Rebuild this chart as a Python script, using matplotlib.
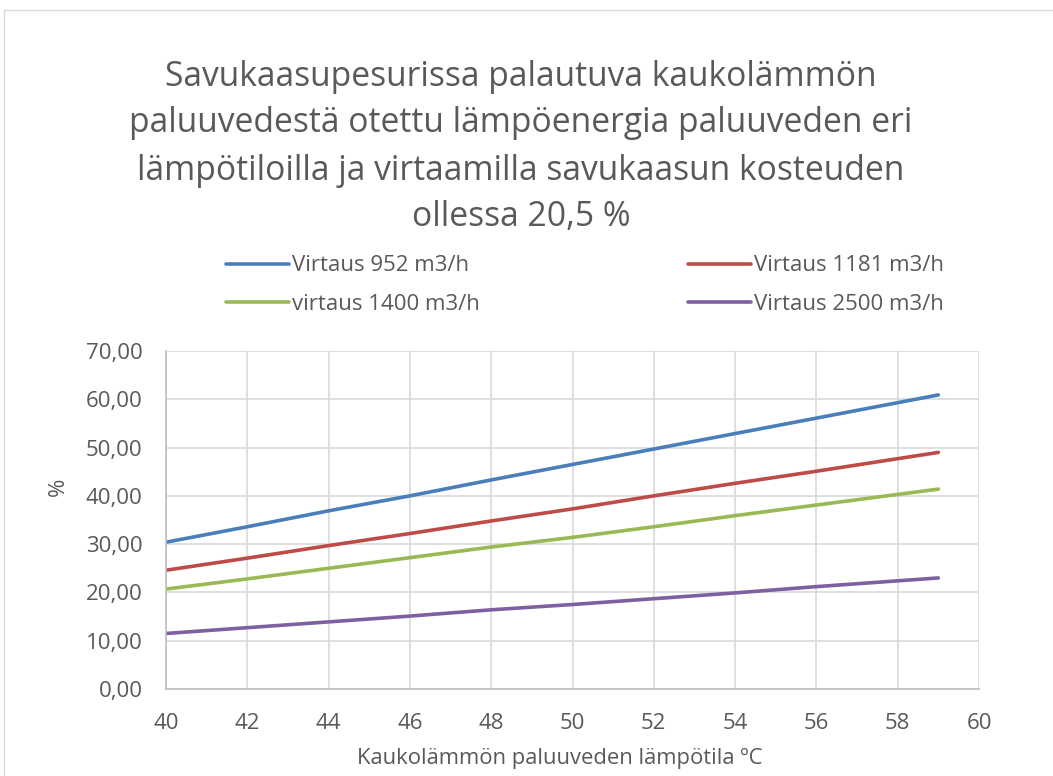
import matplotlib
matplotlib.use("Agg")
import matplotlib.pyplot as plt
from matplotlib.patches import Rectangle
from matplotlib.ticker import FuncFormatter, MultipleLocator

plt.rcParams['font.family'] = ['Open Sans', 'DejaVu Sans']

temps = [40, 42, 44, 46, 48, 50, 52, 54, 56, 58, 59]
flow_952 = [30.4, 33.6, 36.9, 40.0, 43.3, 46.5, 49.7, 52.9, 56.1, 59.3, 60.9]
flow_1181 = [24.6, 27.1, 29.7, 32.2, 34.8, 37.3, 40.0, 42.6, 45.1, 47.7, 49.0]
flow_1400 = [20.7, 22.8, 25.0, 27.2, 29.4, 31.4, 33.6, 35.9, 38.1, 40.3, 41.4]
flow_2500 = [11.5, 12.7, 13.9, 15.1, 16.4, 17.5, 18.7, 19.9, 21.2, 22.4, 23.0]
labels = ["Virtaus 952 m3/h", "Virtaus 1181 m3/h", "virtaus 1400 m3/h", "Virtaus 2500 m3/h"]
colors = ["#4a7ebb", "#be4b48", "#98b954", "#7d60a0"]
title = ("Savukaasupesurissa palautuva kaukolämmön\n"
         "paluuvedestä otettu lämpöenergia paluuveden eri\n"
         "lämpötiloilla ja virtaamilla savukaasun kosteuden\n"
         "ollessa 20,5 %")
xlabel = "Kaukolämmön paluuveden lämpötila ºC"
ylabel = "%"

TXT = "#595959"
W, H = 1053, 776
fig = plt.figure(figsize=(W / 100, H / 100), dpi=100)
fig.patches.append(Rectangle((4 / W, -0.1), 1.2, 1 - 10 / H + 0.1, transform=fig.transFigure,
                             fill=False, edgecolor="#d9d9d9", linewidth=1.0))

ax = fig.add_axes([166 / W, 1 - 689 / H, (979 - 166) / W, (689 - 351) / H])
series = [flow_952, flow_1181, flow_1400, flow_2500]
lines = []
for ys, lab, c in zip(series, labels, colors):
    ln, = ax.plot(temps, ys, color=c, linewidth=2.6, label=lab, solid_capstyle="round")
    lines.append(ln)

ax.set_xlim(40, 60)
ax.set_ylim(0, 70)
ax.xaxis.set_major_locator(MultipleLocator(2))
ax.yaxis.set_major_locator(MultipleLocator(10))
ax.yaxis.set_major_formatter(FuncFormatter(lambda v, p: f"{v:.2f}".replace(".", ",")))
ax.grid(True, color="#d9d9d9", linewidth=1.2)
ax.set_axisbelow(True)
for s in ["top", "right"]:
    ax.spines[s].set_visible(False)
for s in ["left", "bottom"]:
    ax.spines[s].set_color("#bfbfbf")
    ax.spines[s].set_linewidth(1.2)
ax.tick_params(length=0, labelsize=16, colors=TXT)
ax.tick_params(axis="y", pad=17)
ax.tick_params(axis="x", pad=17)

ax.set_xlabel(xlabel, fontsize=15.8, color=TXT, va="center")
ax.xaxis.set_label_coords((560 - 166) / 813, (689 - 758) / 338)
ax.set_ylabel(ylabel, fontsize=16, color=TXT, va="center")
ax.yaxis.set_label_coords((58 - 166) / 813, (689 - 487) / 338)

fig.text(521 / W, 1 - 147 / H, title, ha="center", va="center", fontsize=24.2,
         color=TXT, linespacing=1.5)

# legend: two columns, arranged as in reference
leg_kw = dict(loc="center left", frameon=False, fontsize=16, labelcolor=TXT,
              handlelength=2.85, handletextpad=0.12, labelspacing=0.78,
              borderpad=0, borderaxespad=0)
leg1 = fig.legend([lines[0], lines[2]], [labels[0], labels[2]],
                  bbox_to_anchor=(226 / W, 1 - 285 / H), **leg_kw)
leg2 = fig.legend([lines[1], lines[3]], [labels[1], labels[3]],
                  bbox_to_anchor=(688 / W, 1 - 285 / H), **leg_kw)

fig.savefig("out.png", dpi=100, facecolor="white")
